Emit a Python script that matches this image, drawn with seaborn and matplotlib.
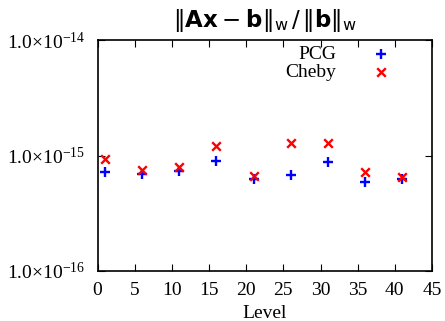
import matplotlib
matplotlib.use("Agg")
import matplotlib.pyplot as plt
import seaborn as sns
import pandas as pd
import numpy as np

levels = [1, 6, 11, 16, 21, 26, 31, 36, 41]
pcg = [7.16e-16, 6.93e-16, 7.41e-16, 8.92e-16, 6.27e-16, 6.80e-16, 8.75e-16, 5.86e-16, 6.27e-16]
cheby = [9.36e-16, 7.56e-16, 7.91e-16, 1.20e-15, 6.60e-16, 1.29e-15, 1.29e-15, 7.16e-16, 6.56e-16]
x_ticks = [0, 5, 10, 15, 20, 25, 30, 35, 40, 45]
y_ticks = [1e-16, 1e-15, 1e-14]
y_labels = [r"$1.0{\times}10^{-16}$", r"$1.0{\times}10^{-15}$", r"$1.0{\times}10^{-14}$"]

sns.set_style("ticks")
plt.rcParams["font.family"] = ["Liberation Serif", "DejaVu Serif"]
plt.rcParams["mathtext.fontset"] = "custom"
plt.rcParams["mathtext.rm"] = "Liberation Serif"
plt.rcParams["mathtext.it"] = "Liberation Serif:italic"
plt.rcParams["mathtext.bf"] = "Liberation Serif:bold"
for k in ["text.color", "axes.labelcolor", "xtick.color", "ytick.color", "axes.edgecolor"]:
    plt.rcParams[k] = "black"

df_p = pd.DataFrame({"Level": levels, "val": pcg})
df_c = pd.DataFrame({"Level": levels, "val": cheby})

fig = plt.figure(figsize=(4.45, 3.21), dpi=100)
ax = fig.add_axes([97.5 / 445, 1 - 271 / 321, (432 - 97.5) / 445, (271 - 40) / 321])

sns.scatterplot(data=df_p, x="Level", y="val", marker="+", color="blue", s=45,
                linewidth=1.7, ax=ax, label="PCG", zorder=3)
sns.scatterplot(data=df_c, x="Level", y="val", marker="x", color="red", s=38,
                linewidth=1.7, ax=ax, label="Cheby", zorder=3)

ax.set_yscale("log")
ax.set_ylim(1e-16, 1e-14)
ax.set_xlim(0, 45)
ax.set_xticks(x_ticks)
ax.set_yticks(y_ticks)
ax.set_yticklabels(y_labels)
ax.yaxis.set_minor_locator(matplotlib.ticker.NullLocator())
ax.tick_params(direction="in", top=True, right=True, length=5, width=0.8,
               labelsize=14, pad=8, colors="black")
ax.tick_params(axis="y", pad=9)
for s in ax.spines.values():
    s.set_linewidth(1.2)
    s.set_color("black")

ax.set_xlabel("Level", fontsize=14, labelpad=4, color="black")
ax.set_ylabel("")
ax.set_title(r"$\|\mathbf{Ax}\:-\:\mathbf{b}\|_{\mathsf{w}}\,/\,\|\mathbf{b}\|_{\mathsf{w}}$",
             fontsize=16.5, math_fontfamily="dejavusans", pad=9, color="black")

leg = ax.legend(loc="upper right", frameon=False, markerfirst=False, fontsize=14,
                handletextpad=1.8, borderaxespad=0.0, labelspacing=0.0,
                handlelength=1.0, bbox_to_anchor=(0.90, 1.01))
for t in leg.get_texts():
    t.set_ha("right")
    t.set_color("black")

fig.savefig("out.png", dpi=100)
